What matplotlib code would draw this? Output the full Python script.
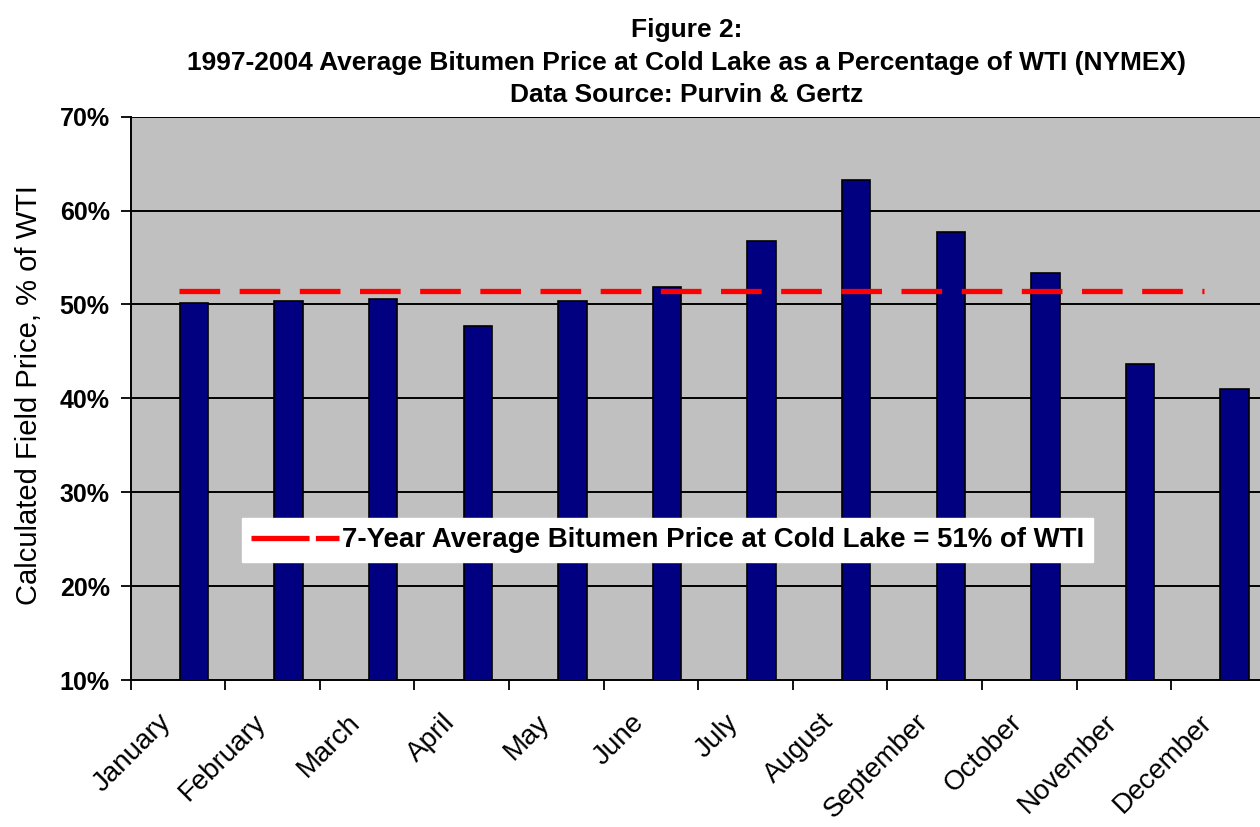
import matplotlib.pyplot as plt
from matplotlib.lines import Line2D

# data (percent of WTI)
months = ['January', 'February', 'March', 'April', 'May', 'June',
          'July', 'August', 'September', 'October', 'November', 'December']
price_pct = [50.2, 50.4, 50.6, 47.7, 50.4, 51.9,
             56.8, 63.3, 57.7, 53.3, 43.7, 41.0]
avg_pct = 51.4
avg_label = '7-Year Average Bitumen Price at Cold Lake = 51% of WTI'
y_ticks = [10, 20, 30, 40, 50, 60, 70]

FONT = ['Liberation Sans', 'DejaVu Sans']
plt.rcParams['font.family'] = FONT

fig = plt.figure(figsize=(12.6, 8.27), dpi=100)
ax = fig.add_axes([0.1036, 0.1777, 0.901, 0.6812])
ax.set_facecolor('#c0c0c0')

# bars sit in the right half of each category slot (Excel cluster look)
xs = [i + 0.67 for i in range(len(months))]
ax.bar(xs, price_pct, width=0.30, bottom=0, color='#000080',
       edgecolor='black', linewidth=1.2, zorder=3)

# average line
ax.hlines(avg_pct, 0.51, 11.35, colors='#ff0000', linewidth=3.8,
          linestyles=(0, (7.7, 3.7)), zorder=4)

ax.set_xlim(0, len(months))
ax.set_ylim(10, 70)

ax.set_yticks(y_ticks)
ax.set_yticklabels([f'{v}%' for v in y_ticks], fontsize=18,
                   fontweight='bold')
ax.tick_params(axis='y', direction='out', length=7, width=1.3, pad=8)
for v in y_ticks[1:]:
    ax.axhline(v, color='black', linewidth=1.4, zorder=2)

ax.set_xticks(range(len(months) + 1))
ax.set_xticklabels([])
ax.set_xticks([i + 0.29 for i in range(len(months))], minor=True)
ax.set_xticklabels(months, minor=True, rotation=45, ha='right', va='top',
                   rotation_mode='anchor', fontsize=20)
ax.tick_params(axis='x', which='major', direction='out', length=7, width=1.3)
ax.tick_params(axis='x', which='minor', length=0, pad=21)

for s in ['left', 'bottom']:
    ax.spines[s].set_linewidth(1.4)
    ax.spines[s].set_color('black')
ax.spines['top'].set_visible(False)
ax.spines['right'].set_visible(False)

ax.set_ylabel('Calculated Field Price, % of WTI', fontsize=21)
ax.yaxis.set_label_coords(-0.077, 0.505)

fig.text(0.545, 0.978, 'Figure 2:', ha='center', va='top',
         fontsize=19, fontweight='bold')
fig.text(0.545, 0.938,
         '1997-2004 Average Bitumen Price at Cold Lake as a Percentage of WTI (NYMEX)',
         ha='center', va='top', fontsize=19, fontweight='bold')
fig.text(0.545, 0.900, 'Data Source: Purvin & Gertz', ha='center', va='top',
         fontsize=19, fontweight='bold')

handle = Line2D([], [], color='#ff0000', linewidth=3.8,
                linestyle=(0, (11, 1.2)))
leg = ax.legend([handle], [avg_label], loc='lower left',
                bbox_to_anchor=(0.098, 0.2095),
                prop={'weight': 'bold', 'size': 19.9},
                frameon=True, fancybox=False, framealpha=1,
                handlelength=3.2, handletextpad=0.1, borderpad=0.32,
                borderaxespad=0)
leg.get_frame().set_edgecolor('white')
leg.get_frame().set_facecolor('white')
leg.set_zorder(5)

fig.savefig('out.png', dpi=100)
